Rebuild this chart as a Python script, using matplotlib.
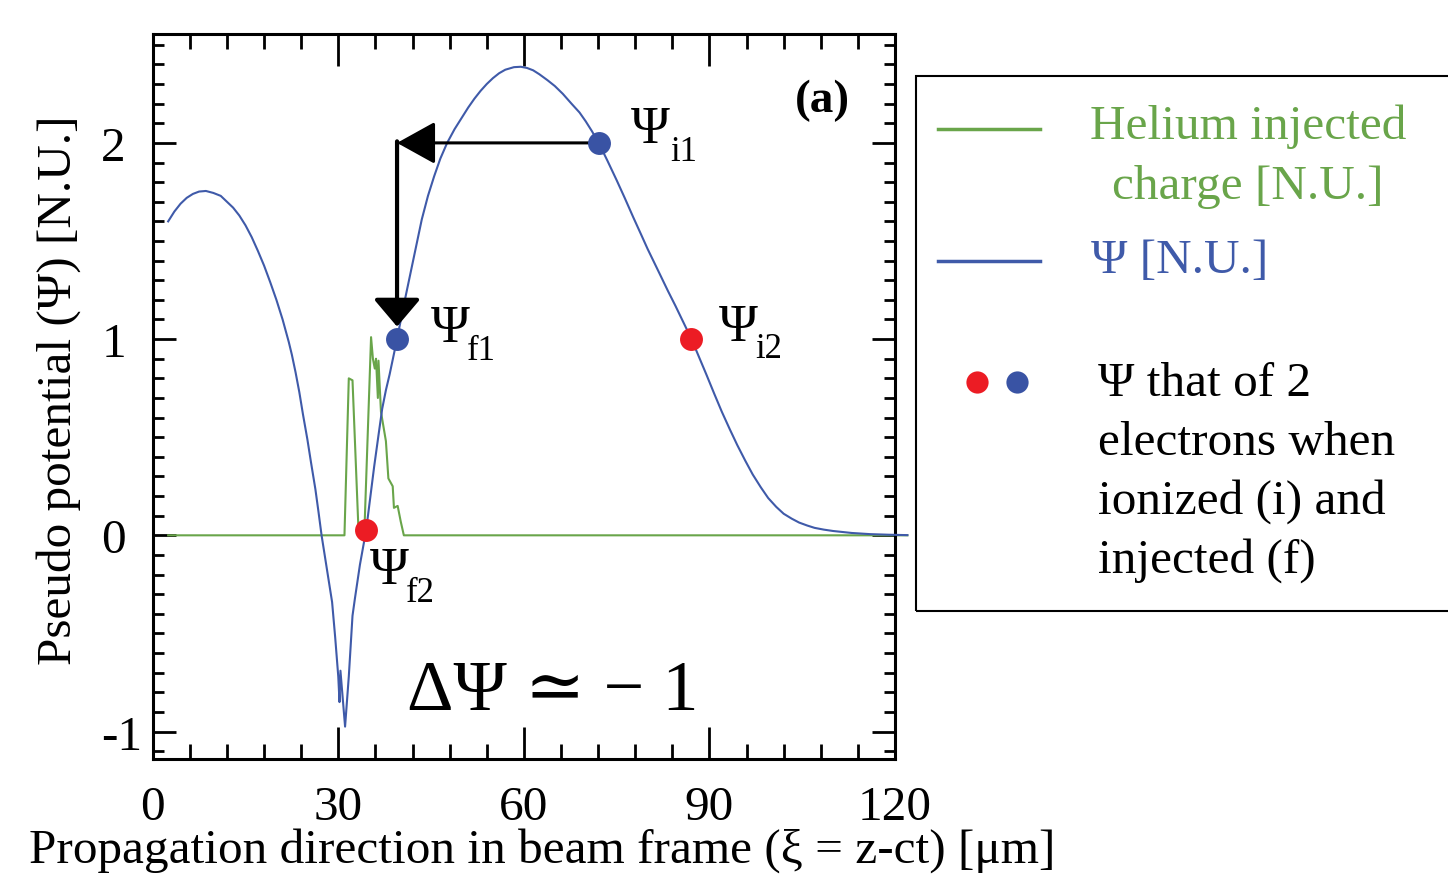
import matplotlib
matplotlib.use("Agg")
import matplotlib.pyplot as plt
from matplotlib.ticker import MultipleLocator
from matplotlib.patches import Rectangle
from matplotlib.lines import Line2D

plt.rcParams["font.family"] = ["Liberation Serif", "DejaVu Serif"]
plt.rcParams["axes.unicode_minus"] = False

# Pseudo potential along the beam-frame coordinate
xi_psi = [2.5, 3.5, 4.5, 5.5, 6.5, 7.5, 8.6, 9.8, 11.0, 12.0, 13.0, 14.0, 15.0,
          16.0, 17.0, 18.0, 19.0, 20.0, 21.0, 22.0, 22.5, 23.1, 23.7, 24.3,
          25.0, 25.6, 26.3, 26.8, 27.3, 28.3, 29.0, 29.5, 30.0, 30.2, 30.35,
          31.1, 31.7, 32.3, 32.7, 33.5, 34.5, 35.2, 35.8, 36.5, 37.1, 37.7,
          38.3, 38.9, 39.5, 40.5, 41.5, 42.5, 43.5, 44.5, 45.5, 46.5, 47.6,
          48.8, 50.0, 51.0, 52.0, 53.0, 54.0, 55.0, 56.0, 57.0, 58.4, 59.5,
          60.5, 61.5, 62.5, 63.8, 65.0, 66.3, 67.7, 69.0, 70.0, 71.0, 72.1,
          73.5, 75.0, 76.3, 77.7, 79.0, 80.0, 81.0, 82.0, 83.3, 84.5, 85.8,
          87.1, 88.3, 89.5, 90.8, 92.0, 93.3, 94.5, 95.8, 97.0, 98.3, 99.5,
          100.8, 102.0, 103.3, 104.5, 105.8, 107.0, 108.5, 110.0, 113.0,
          116.0, 119.0, 122.0]
psi = [1.60, 1.65, 1.69, 1.72, 1.74, 1.752, 1.755, 1.745, 1.73, 1.70, 1.67,
       1.63, 1.58, 1.52, 1.45, 1.375, 1.29, 1.20, 1.10, 0.985, 0.92, 0.83,
       0.73, 0.615, 0.49, 0.37, 0.235, 0.12, 0.00, -0.20, -0.34, -0.52, -0.72,
       -0.85, -0.69, -0.975, -0.72, -0.41, -0.32, -0.15, 0.025, 0.20, 0.35,
       0.51, 0.645, 0.74, 0.82, 0.91, 1.00, 1.16, 1.31, 1.46, 1.61, 1.73,
       1.83, 1.92, 2.00, 2.07, 2.13, 2.18, 2.225, 2.265, 2.30, 2.33, 2.355,
       2.373, 2.386, 2.388, 2.382, 2.37, 2.35, 2.32, 2.29, 2.25, 2.20, 2.155,
       2.11, 2.06, 2.00, 1.91, 1.81, 1.72, 1.62, 1.53, 1.46, 1.395, 1.33,
       1.245, 1.17, 1.085, 1.00, 0.91, 0.82, 0.72, 0.63, 0.54, 0.46, 0.38,
       0.31, 0.245, 0.19, 0.145, 0.11, 0.085, 0.065, 0.05, 0.038, 0.029,
       0.022, 0.012, 0.006, 0.003, 0.001]

# Injected helium charge profile
xi_he = [2.5, 31.0, 31.7, 32.3, 33.3, 34.2, 35.3, 35.6, 35.9, 36.1, 36.4, 36.5,
         36.9, 37.7, 38.1, 38.8, 39.0, 39.6, 40.1, 40.6, 122.0]
charge = [0.0, 0.0, 0.80, 0.79, 0.0, 0.0, 1.01, 0.90, 0.85, 0.90, 0.70, 0.89,
          0.63, 0.48, 0.29, 0.25, 0.14, 0.15, 0.07, 0.0, 0.0]

# Electron potentials at ionization (i) and injection (f)
xi_i1, psi_i1 = 72.1, 2.0
xi_f1, psi_f1 = 39.5, 1.0
xi_i2, psi_i2 = 87.1, 1.0
xi_f2, psi_f2 = 34.5, 0.025

x_ticks = [0, 30, 60, 90, 120]
y_ticks = [-1, 0, 1, 2]

BLUE = "#3f5aa9"
DOT_BLUE = "#3953a4"
RED = "#ec1c24"
GREEN = "#69a54a"
FS = 35.5

fig = plt.figure(figsize=(14.48, 8.79), dpi=100)
ax = fig.add_axes([152.7 / 1448, 1 - 760 / 879, (895 - 152.7) / 1448, (760 - 35) / 879])

ax.plot(xi_he, charge, color=GREEN, lw=1.5, clip_on=False, zorder=2)
ax.plot(xi_psi, psi, color=BLUE, lw=1.5, clip_on=False, zorder=3)

ax.set_xlim(0, 120)
ax.set_ylim(-1.14, 2.555)
ax.set_xticks(x_ticks)
ax.set_yticks(y_ticks)
ax.xaxis.set_minor_locator(MultipleLocator(6))
ax.yaxis.set_minor_locator(MultipleLocator(0.1))
for s in ax.spines.values():
    s.set_linewidth(2.2)
ax.tick_params(which="both", direction="in", top=True, right=True, width=2.0)
ax.tick_params(axis="x", which="major", length=23, pad=19, labelsize=FS)
ax.tick_params(axis="x", which="minor", length=11)
ax.tick_params(axis="y", which="major", length=16.5, pad=37, labelsize=FS)
ax.tick_params(axis="y", which="minor", length=8)
for lab in ax.get_yticklabels():
    lab.set_horizontalalignment("left")

ax.set_xlabel("Propagation direction in beam frame (\u03be = z-ct) [\u03bcm]", fontsize=FS)
ax.xaxis.label.set_verticalalignment("baseline")
ax.xaxis.set_label_coords(0.525, -0.142)
ax.set_ylabel("Pseudo potential (\u03a8) [N.U.]", fontsize=FS)
ax.yaxis.label.set_verticalalignment("baseline")
ax.yaxis.set_label_coords(-0.1105, 0.5097)

# Arrows from the ionization potential to the injection potential
ax.annotate("", xy=(xi_f1, psi_i1), xytext=(xi_i1, psi_i1),
            arrowprops=dict(arrowstyle="-|>,head_length=24,head_width=13.3",
                            mutation_scale=1, color="black", lw=2.2,
                            shrinkA=0, shrinkB=0), zorder=4)
ax.annotate("", xy=(xi_f1, psi_f1), xytext=(xi_f1, psi_i1 + 0.008),
            arrowprops=dict(arrowstyle="-|>,head_length=17,head_width=14.4",
                            mutation_scale=1, color="black", lw=3.0,
                            shrinkA=0, shrinkB=9), zorder=4)

ax.plot([xi_i1, xi_f1], [psi_i1, psi_f1], "o", color=DOT_BLUE, ms=16.5, mec="none",
        zorder=5, clip_on=False)
ax.plot([xi_i2, xi_f2], [psi_i2, psi_f2], "o", color=RED, ms=16.5, mec="none",
        zorder=5, clip_on=False)

# Point labels: symbol plus subscript
labels = [
    (xi_i1, psi_i1, "i1", (32, 1), (72, -17)),
    (xi_f1, psi_f1, "f1", (34, -2), (70, -20)),
    (xi_i2, psi_i2, "i2", (27, -1), (64, -18)),
    (xi_f2, psi_f2, "f2", (4, -53), (40, -71)),
]
for x, y, sub, off_main, off_sub in labels:
    ax.annotate("\u03a8", xy=(x, y), xytext=off_main, textcoords="offset pixels",
                fontsize=38, ha="left", va="baseline", zorder=6)
    ax.annotate(sub, xy=(x, y), xytext=off_sub, textcoords="offset pixels",
                fontsize=25, ha="left", va="baseline", zorder=6)

ax.text(0.3426, 0.069, "\u0394\u03a8 \u2243 \u2212 1", transform=ax.transAxes,
        fontsize=52, ha="left", va="baseline",
        family=["Liberation Serif", "DejaVu Serif"])
ax.text(0.865, 0.894, "(a)", transform=ax.transAxes, fontsize=34,
        fontweight="bold", ha="left", va="baseline")

# Legend panel
def fx(px):
    return px / 1448


def fy(py):
    return 1 - py / 879


fig.patches.append(Rectangle((fx(916), fy(612)), fx(700), (612 - 77) / 879,
                             transform=fig.transFigure, fill=False,
                             edgecolor="black", lw=1.5, clip_on=False))
fig.lines.append(Line2D([fx(938), fx(1040)], [fy(130), fy(130)],
                        transform=fig.transFigure, color=GREEN, lw=2.5))
fig.lines.append(Line2D([fx(938), fx(1040)], [fy(262), fy(262)],
                        transform=fig.transFigure, color=BLUE, lw=2.5))
fig.text(fx(1248), fy(139), "Helium injected", color=GREEN, fontsize=FS,
         ha="center", va="baseline")
fig.text(fx(1248), fy(199), "charge [N.U.]", color=GREEN, fontsize=FS,
         ha="center", va="baseline")
fig.text(fx(1091), fy(273), "\u03a8 [N.U.]", color=BLUE, fontsize=FS,
         ha="left", va="baseline")
fig.lines.append(Line2D([fx(977)], [fy(383)], transform=fig.transFigure,
                        marker="o", color=RED, ms=16, mec="none", ls="none"))
fig.lines.append(Line2D([fx(1017)], [fy(383)], transform=fig.transFigure,
                        marker="o", color=DOT_BLUE, ms=16, mec="none", ls="none"))
legend_lines = ["\u03a8 that of 2", "electrons when", "ionized (i) and", "injected (f)"]
for k, line in enumerate(legend_lines):
    fig.text(fx(1098), fy(396 + 59 * k), line, color="black", fontsize=FS,
             ha="left", va="baseline")

fig.savefig("out.png", dpi=100)
